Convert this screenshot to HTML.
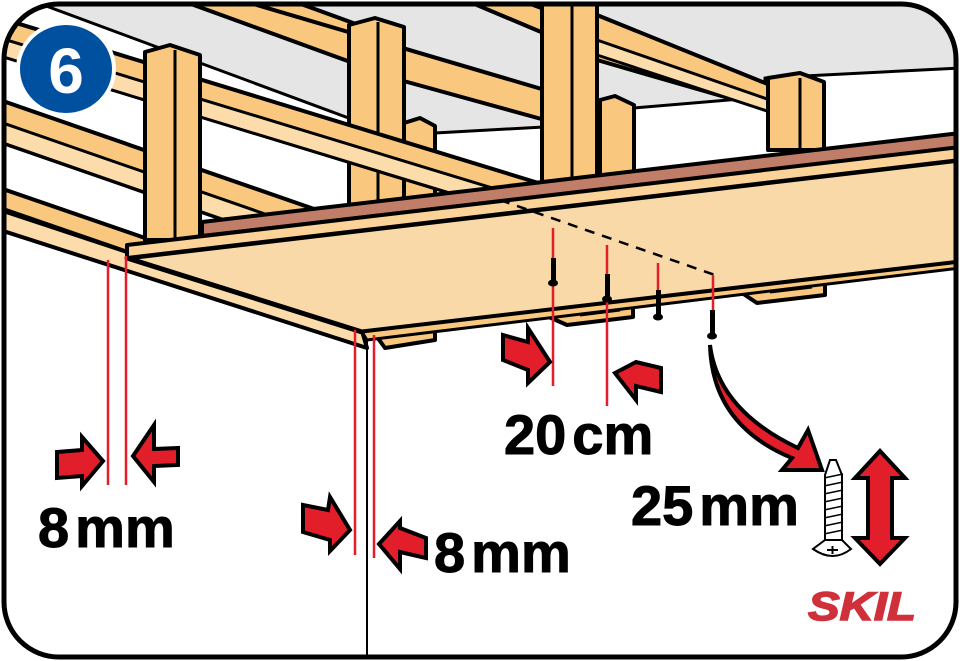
<!DOCTYPE html>
<html><head><meta charset="utf-8"><style>
html,body{margin:0;padding:0;background:#fff;}
svg{display:block;}
text{font-family:"Liberation Sans",sans-serif;font-weight:bold;}
</style></head><body>
<svg width="960" height="661" viewBox="0 0 960 661" xmlns="http://www.w3.org/2000/svg">
<defs><clipPath id="c"><rect x="4" y="4" width="952" height="653" rx="55"/></clipPath></defs>
<g clip-path="url(#c)" stroke="#000" stroke-linejoin="round">
<rect x="0" y="0" width="960" height="661" fill="#fff" stroke="none"/>
<polygon points="30,0 960,0 960,68 765,78 765,97 634,108 634,122 435,133 435,150 30,0" fill="#e5e5e5" stroke-width="3"/>
<polygon points="239,0 290,0 400,40 400,60 343,45" fill="#f9c77e" stroke-width="4"/>
<polygon points="465,0 520,0 560,15 560,40" fill="#f9c77e" stroke-width="4"/>
<polygon points="180,0 240,0 545,90 545,120 400,80" fill="#f9c77e" stroke-width="4"/>
<polygon points="597,15 770,85 770,110 597,60" fill="#f9c77e" stroke-width="4"/>
<polygon points="597,40 770,100 770,112 597,55" fill="#fcdcaa" stroke-width="3"/>
<polygon points="404,123 420,118 435,126 435,200 404,200" fill="#f9c77e" stroke-width="4"/>
<polygon points="600,100 615,96 634,105 634,180 600,180" fill="#f9c77e" stroke-width="4"/>
<polygon points="768,78 800,73 824,82 824,150 768,150" fill="#f9c77e" stroke-width="4"/>
<line x1="800" y1="78" x2="800" y2="150" stroke-width="3"/>
<polygon points="349,25 375,18 404,27 404,210 349,210" fill="#f9c77e" stroke-width="4"/>
<line x1="378" y1="22" x2="378" y2="210" stroke-width="3"/>
<polygon points="0,18 545,185 545,222 0,55" fill="#f9c77e" stroke-width="4"/>
<polygon points="0,38 545,204 545,222 0,56" fill="#fcdcaa" stroke-width="3"/>
<polygon points="542,0 597,0 597,195 542,195" fill="#f9c77e" stroke-width="4"/>
<line x1="572" y1="0" x2="572" y2="195" stroke-width="3"/>
<polygon points="0,100 340,218 340,260 0,142" fill="#f9c77e" stroke-width="4"/>
<polygon points="0,122 340,240 340,260 0,142" fill="#fcdcaa" stroke-width="3"/>
<polygon points="145,52 170,45 200,55 200,240 145,240" fill="#f9c77e" stroke-width="4"/>
<line x1="175" y1="50" x2="175" y2="240" stroke-width="3"/>
<polygon points="0,188 145,238 145,258 0,208" fill="#f9c77e" stroke-width="4"/>
<polygon points="0,210 127,252 362,331 367,348 0,230" fill="#fcdcaa" stroke-width="4"/>
<polygon points="202,222 960,133 960,148 202,236" fill="#c07d68" stroke-width="4"/>
<polygon points="372,330 435,322 435,340 385,348" fill="#f9c77e" stroke-width="4"/>
<polygon points="533,310 633,298 633,317 567,325" fill="#f9c77e" stroke-width="4"/>
<line x1="580" y1="315" x2="620" y2="310" stroke-width="3"/>
<polygon points="730,285 825,274 825,295 757,303" fill="#f9c77e" stroke-width="4"/>
<line x1="770" y1="292" x2="812" y2="287" stroke-width="3"/>
<polygon points="127,258 960,160 960,262 362,332" fill="#f9d9a8" stroke-width="5"/>
<polygon points="127,245 960,147 960,160 127,258" fill="#fbd298" stroke-width="4"/>
<polygon points="362,332 960,262 960,268 367,340" fill="#f9c77e" stroke-width="3"/>
<line x1="500" y1="200" x2="715" y2="275" stroke-width="2.5" stroke-dasharray="10,8"/>
<line x1="367" y1="340" x2="367" y2="661" stroke-width="2"/>
</g>
<g stroke="#e31e2b" stroke-width="2.5">
<line x1="108" y1="260" x2="108" y2="485"/><line x1="126" y1="256" x2="126" y2="485"/>
<line x1="355" y1="330" x2="355" y2="555"/><line x1="374" y1="335" x2="374" y2="558"/>
<line x1="553" y1="228" x2="553" y2="386"/><line x1="607" y1="245" x2="607" y2="406"/>
<line x1="658" y1="263" x2="658" y2="293"/><line x1="713" y1="275" x2="713" y2="312"/>
</g>
<g fill="#000">
<rect x="551" y="258" width="5" height="22"/><ellipse cx="553" cy="283" rx="5" ry="3.5"/>
<rect x="605" y="274" width="5" height="22"/><ellipse cx="607" cy="299" rx="5" ry="3.5"/>
<rect x="656" y="290" width="5" height="24"/><ellipse cx="658" cy="317" rx="5" ry="3.5"/>
<rect x="710" y="310" width="5" height="24"/><ellipse cx="712" cy="336" rx="5" ry="3.5"/>
</g>
<g fill="#e31e2b" stroke="#000" stroke-width="4" stroke-linejoin="miter">
<polygon points="57,452 82,450 82,437 103,461 82,486 82,476 57,478"/>
<polygon points="178,448 154,449 154,425 133,456 154,482 154,466 178,465"/>
<polygon points="303,505 328,510 330,497 350,530 330,551 330,540 303,532"/>
<polygon points="426,558 400,552 400,569 379,544 400,521 400,528 426,538"/>
<polygon points="503,335 528,342 528,328 550,362 528,383 528,370 503,360"/>
<polygon points="661,392 636,386 636,400 615,373 636,362 661,368"/>
<path d="M710,345 Q718,410 798,448 L808,430 L822,470 L782,470 L792,458 Q712,425 710,345 Z"/>
<polygon points="880,451 905,478 892,478 892,538 905,538 880,564 855,538 868,538 868,478 855,478"/>
</g>
<g fill="#fff" stroke="#000" stroke-width="2">
<path d="M830,460 L836,460 L842,475 L842,540 L825,540 L825,475 Z"/>
<g stroke-width="1.5"><line x1="824" y1="478" x2="843" y2="474"/><line x1="824" y1="486" x2="843" y2="482"/><line x1="824" y1="494" x2="843" y2="490"/><line x1="824" y1="502" x2="843" y2="498"/><line x1="824" y1="510" x2="843" y2="506"/><line x1="824" y1="518" x2="843" y2="514"/><line x1="824" y1="526" x2="843" y2="522"/><line x1="824" y1="534" x2="843" y2="530"/></g>
<path d="M825,540 L813,549 Q833,563 851,549 L842,540 Z"/>
<line x1="827" y1="550" x2="838" y2="550"/><line x1="832.5" y1="546" x2="832.5" y2="554"/>
</g>
<rect x="4" y="4" width="952" height="653" rx="55" fill="none" stroke="#000" stroke-width="5"/>
<ellipse cx="66" cy="69" rx="48" ry="46" fill="#0050a0" stroke="#fff" stroke-width="4"/>
<text x="66" y="93" font-size="64" fill="#fff" text-anchor="middle">6</text>
<text x="38" y="547" font-size="56" fill="#000" stroke="#000" stroke-width="1">8<tspan dx="6">mm</tspan></text>
<text x="434" y="572" font-size="56" fill="#000" stroke="#000" stroke-width="1">8<tspan dx="6">mm</tspan></text>
<text x="504" y="454" font-size="56" fill="#000" stroke="#000" stroke-width="1">20<tspan dx="6">cm</tspan></text>
<text x="631" y="525" font-size="56" fill="#000" stroke="#000" stroke-width="1">25<tspan dx="6">mm</tspan></text>
<text x="808" y="620" font-size="40" fill="#d0303a" stroke="#d0303a" stroke-width="1.5" font-style="italic" textLength="108" lengthAdjust="spacingAndGlyphs">SKIL</text>
</svg>
</body></html>
